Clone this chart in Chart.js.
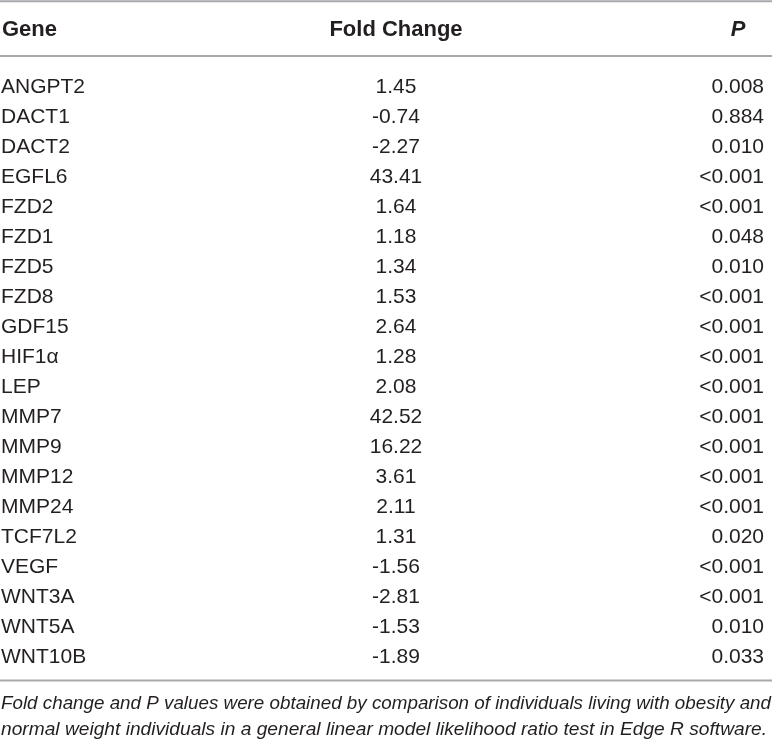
<!DOCTYPE html>
<html>
<head>
<meta charset="utf-8">
<script src="https://cdn.jsdelivr.net/npm/chart.js@4.4.1/dist/chart.umd.min.js"></script>
<style>
  html, body { margin: 0; padding: 0; background: #fff; }
  #wrap { width: 772px; height: 742px; }
</style>
</head>
<body>
<div id="wrap"><canvas id="tbl" width="772" height="742"></canvas></div>
<script>
// table data
const headers = ["Gene", "Fold Change", "P"];
const genes = ["ANGPT2", "DACT1", "DACT2", "EGFL6", "FZD2", "FZD1", "FZD5", "FZD8", "GDF15", "HIF1α",
               "LEP", "MMP7", "MMP9", "MMP12", "MMP24", "TCF7L2", "VEGF", "WNT3A", "WNT5A", "WNT10B"];
const foldChange = [1.45, -0.74, -2.27, 43.41, 1.64, 1.18, 1.34, 1.53, 2.64, 1.28,
                    2.08, 42.52, 16.22, 3.61, 2.11, 1.31, -1.56, -2.81, -1.53, -1.89];
const pValues = ["0.008", "0.884", "0.010", "<0.001", "<0.001", "0.048", "0.010", "<0.001", "<0.001", "<0.001",
                 "<0.001", "<0.001", "<0.001", "<0.001", "<0.001", "0.020", "<0.001", "<0.001", "0.010", "0.033"];
const footnote = [
  "Fold change and P values were obtained by comparison of individuals living with obesity and",
  "normal weight individuals in a general linear model likelihood ratio test in Edge R software."
];

const ink = "#231f20";
const rule = "#a7a9ac";
const font = "'Liberation Sans', Arial, Helvetica, sans-serif";

// draws header, cells, rules and footnote using the chart scales
const tablePlugin = {
  id: "tablePlugin",
  afterDraw(chart) {
    const ctx = chart.ctx;
    const x = chart.scales.x;
    const y = chart.scales.y;
    const W = chart.width;

    ctx.save();
    // rules
    ctx.strokeStyle = rule;
    ctx.lineWidth = 2;
    [1.3, 56, 680.5].forEach(function (ry) {
      ctx.beginPath();
      ctx.moveTo(0, ry);
      ctx.lineTo(W, ry);
      ctx.stroke();
    });

    ctx.fillStyle = ink;
    ctx.textBaseline = "alphabetic";

    // header
    ctx.font = "bold 22px " + font;
    ctx.textAlign = "left";
    ctx.fillText(headers[0], x.getPixelForValue(2), 36);
    ctx.textAlign = "center";
    ctx.fillText(headers[1], x.getPixelForValue(396), 36);
    ctx.font = "italic bold 22px " + font;
    ctx.fillText(headers[2], x.getPixelForValue(738), 36);

    // body rows
    ctx.font = "21px " + font;
    const vals = chart.data.datasets[0].data;
    chart.data.labels.forEach(function (g, i) {
      const base = y.getPixelForValue(i) + 7.6;
      ctx.textAlign = "left";
      ctx.fillText(g, x.getPixelForValue(1), base);
      ctx.textAlign = "center";
      ctx.fillText(vals[i].toFixed(2), x.getPixelForValue(396), base);
      ctx.textAlign = "right";
      ctx.fillText(pValues[i], x.getPixelForValue(764), base);
    });

    // footnote, squeezed to the printed width
    ctx.font = "italic 18px " + font;
    ctx.textAlign = "left";
    const fw = [770, 766];
    const fb = [709, 735];
    footnote.forEach(function (line, i) {
      const m = ctx.measureText(line).width;
      ctx.save();
      ctx.translate(1, fb[i]);
      ctx.scale(fw[i] / m, 1);
      ctx.fillText(line, 0, 0);
      ctx.restore();
    });
    ctx.restore();
  }
};

new Chart(document.getElementById("tbl"), {
  type: "bar",
  data: {
    labels: genes,
    datasets: [{
      label: headers[1],
      data: foldChange,
      backgroundColor: "rgba(0,0,0,0)",
      borderWidth: 0
    }]
  },
  options: {
    indexAxis: "y",
    responsive: false,
    animation: false,
    devicePixelRatio: 1,
    layout: { padding: { top: 70, bottom: 72, left: 0, right: 0 } },
    plugins: { legend: { display: false }, tooltip: { enabled: false } },
    scales: {
      x: { type: "linear", min: 0, max: 772, display: false },
      y: { type: "category", offset: true, display: false }
    }
  },
  plugins: [tablePlugin]
});
</script>
</body>
</html>
